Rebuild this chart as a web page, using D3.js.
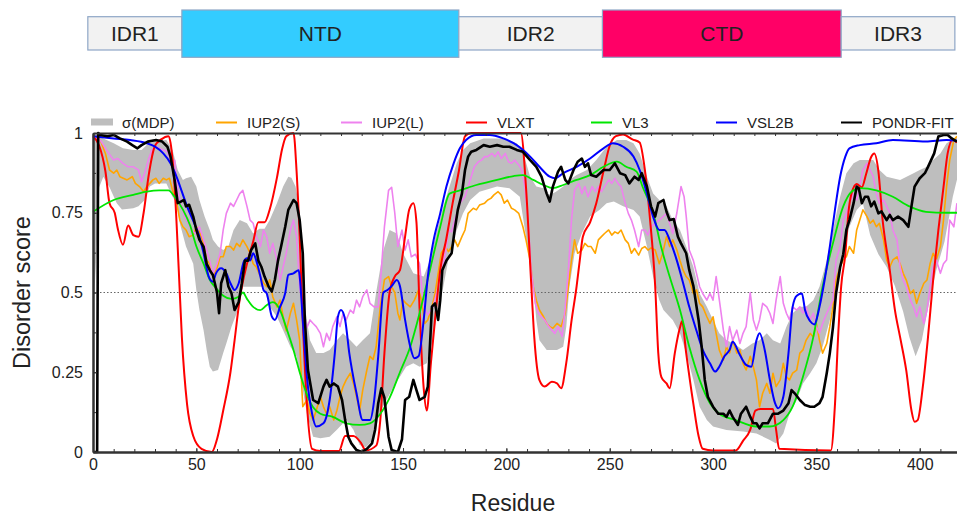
<!DOCTYPE html>
<html>
<head>
<meta charset="utf-8">
<script src="https://cdn.jsdelivr.net/npm/d3@7"></script>
<style>
  body { margin: 0; background: #fff; }
  svg text { font-family: "Liberation Sans", Arial, Helvetica, sans-serif; fill: #222; }
</style>
</head>
<body>
<svg id="chart" width="957" height="515"></svg>
<script>
// ---- data (residue, score) ----
const seqLength = 419;

const domainNames = ["IDR1", "NTD", "IDR2", "CTD", "IDR3"];
const domainStart = [-2.5, 43, 177, 246.5, 362];
const domainEnd = [43, 177, 246.5, 362, 417];
const domainFill = ["#f2f2f2", "#33ccff", "#f2f2f2", "#ff0066", "#f2f2f2"];

const xTicks = [0, 50, 100, 150, 200, 250, 300, 350, 400];
const yTicks = [0, 0.25, 0.5, 0.75, 1];
const yTickLabels = ["0", "0.25", "0.5", "0.75", "1"];

const legendLabels = ["σ(MDP)", "IUP2(S)", "IUP2(L)", "VLXT", "VL3", "VSL2B", "PONDR-FIT"];

const sigmaUpper = [[0,1.0],[3,0.99],[6,0.98],[10,0.968],[14.5,0.952],[19.5,0.947],[23.5,0.947],[26,0.962],[30,0.975],[35.5,0.978],[38.5,0.947],[41,0.884],[43.5,0.853],[45,0.858],[47.5,0.863],[50,0.832],[51.5,0.79],[54,0.738],[56.5,0.696],[58,0.665],[60.5,0.644],[63,0.633],[65.5,0.644],[68,0.696],[71,0.727],[74.5,0.717],[77.5,0.685],[80.5,0.70],[83,0.70],[85.5,0.727],[89,0.78],[92,0.832],[94.5,0.863],[96,0.86],[98,0.832],[99.5,0.78],[101,0.623],[102.5,0.455],[105,0.35],[108,0.31],[111.5,0.31],[114.5,0.32],[118,0.35],[121,0.372],[124.5,0.35],[127.5,0.33],[130.5,0.35],[134,0.372],[137,0.5],[140.5,0.633],[143.5,0.696],[147,0.685],[150,0.623],[155,0.56],[160,0.55],[163,0.60],[166,0.685],[169.5,0.77],[172.5,0.832],[176,0.905],[179,0.947],[182.5,0.968],[189,0.983],[198.5,0.983],[205,0.968],[208,0.941],[211.5,0.863],[214.5,0.832],[218,0.827],[221,0.806],[224,0.816],[227.5,0.832],[230.5,0.853],[234,0.868],[239,0.884],[243.5,0.915],[248.5,0.957],[253.5,0.978],[258,0.978],[261.5,0.968],[264.5,0.936],[268,0.863],[271,0.81],[274,0.79],[277.5,0.77],[280.5,0.727],[284,0.696],[287,0.644],[290.5,0.58],[293.5,0.497],[297,0.455],[300,0.414],[303,0.372],[306.5,0.35],[310,0.34],[314.5,0.32],[319,0.34],[322.5,0.35],[326,0.372],[329,0.35],[332.5,0.34],[335.5,0.393],[338.5,0.435],[342,0.455],[345,0.455],[348.5,0.476],[351.5,0.518],[355,0.60],[358,0.696],[361.5,0.80],[364.5,0.874],[368,0.905],[371,0.915],[377.5,0.915],[380.5,0.884],[384,0.863],[390.5,0.853],[397,0.874],[400,0.884],[403.5,0.894],[406.5,0.915],[410,0.936],[413,0.968],[416,0.98],[419,0.99]];

const sigmaLower = [[0,0.42],[1.5,0.6],[3,0.83],[5,0.863],[8,0.83],[11.5,0.78],[14,0.76],[19.5,0.764],[22,0.77],[25,0.79],[27.5,0.832],[30,0.842],[35.5,0.842],[38.5,0.80],[40.5,0.78],[42,0.717],[45,0.644],[48.5,0.59],[50,0.508],[51.5,0.445],[53.5,0.382],[55,0.32],[56.5,0.267],[58,0.252],[60.5,0.257],[63,0.31],[64.5,0.34],[67,0.393],[69.5,0.435],[72.5,0.518],[77.5,0.518],[82.5,0.518],[85.5,0.455],[89,0.424],[92,0.382],[95.5,0.33],[98.5,0.30],[101,0.215],[103.5,0.12],[106.5,0.048],[110,0.043],[114.5,0.048],[118,0.07],[122.5,0.10],[126,0.07],[129,0.022],[132,0.015],[135.5,0.038],[138.5,0.12],[142,0.163],[145.5,0.205],[148.5,0.236],[151.5,0.267],[155,0.278],[158,0.267],[161.5,0.278],[164,0.34],[166,0.414],[169.5,0.518],[172.5,0.623],[176,0.696],[179,0.748],[182.5,0.79],[187,0.816],[195.5,0.832],[201.5,0.827],[206.5,0.80],[209.5,0.675],[213,0.518],[214.5,0.414],[216,0.35],[219.5,0.32],[224.5,0.32],[227.5,0.33],[229,0.393],[230.5,0.518],[233,0.623],[236.5,0.685],[240.5,0.738],[245,0.759],[248.5,0.78],[252,0.785],[256.5,0.77],[261.5,0.759],[264.5,0.738],[268,0.644],[271,0.55],[274,0.476],[276,0.445],[279,0.424],[280.5,0.414],[284,0.372],[287,0.31],[290.5,0.226],[293.5,0.142],[297,0.10],[300,0.08],[306.5,0.069],[314.5,0.064],[321,0.058],[327.5,0.038],[330.5,0.027],[334,0.058],[337,0.12],[340.5,0.163],[343.5,0.215],[347,0.247],[350,0.278],[353,0.33],[356.5,0.414],[359.5,0.518],[363,0.623],[366,0.706],[369.5,0.759],[372.5,0.78],[376,0.68],[380,0.62],[384,0.58],[388,0.52],[392,0.44],[395,0.36],[398,0.30],[401,0.35],[404,0.45],[408,0.57],[412,0.66],[416,0.80],[419,0.88]];

const iup2s = [[0,0.994],[3.5,0.978],[6,0.936],[8,0.884],[10,0.874],[11.5,0.884],[13,0.863],[16.5,0.853],[19,0.863],[20.5,0.842],[22.5,0.832],[24.5,0.816],[26,0.832],[27.5,0.842],[29,0.853],[30.5,0.858],[32,0.842],[34,0.858],[35.5,0.853],[37,0.858],[38.5,0.82],[40.5,0.78],[42,0.727],[43.5,0.706],[45,0.696],[46.5,0.675],[48.5,0.68],[50,0.706],[51.5,0.69],[53.5,0.654],[55,0.60],[56.5,0.59],[58,0.55],[60,0.576],[61.5,0.612],[63,0.612],[64.5,0.644],[66.5,0.644],[68,0.633],[69.5,0.654],[71,0.644],[72.5,0.665],[74.5,0.644],[76,0.623],[77.5,0.59],[79,0.58],[81,0.55],[82.5,0.53],[84,0.518],[85.5,0.54],[87,0.486],[89,0.455],[90.5,0.476],[92,0.424],[93.5,0.38],[95.5,0.435],[97,0.466],[98.5,0.414],[100,0.35],[101,0.205],[101.5,0.142],[103.5,0.163],[105,0.12],[106.5,0.10],[108,0.13],[110,0.173],[111.5,0.142],[113,0.12],[114.5,0.142],[116.5,0.10],[118,0.13],[119.5,0.173],[121,0.205],[122.5,0.226],[124.5,0.247],[126,0.215],[127.5,0.173],[129,0.13],[130.5,0.194],[132.5,0.257],[134,0.30],[135.5,0.29],[137,0.33],[139,0.455],[141,0.54],[143,0.55],[144.5,0.518],[146,0.50],[147.5,0.435],[148.5,0.414],[150,0.476],[151.5,0.466],[153.5,0.455],[155.5,0.476],[157.5,0.508],[159,0.476],[160.5,0.403],[162,0.414],[164,0.455],[165.5,0.497],[167,0.56],[168.5,0.623],[170.5,0.644],[172,0.628],[173.5,0.644],[175,0.665],[176.5,0.644],[178.5,0.675],[180,0.696],[181.5,0.748],[184,0.764],[185.5,0.759],[187,0.774],[189.5,0.78],[191,0.79],[192.5,0.795],[194,0.806],[196,0.816],[197.5,0.806],[199,0.78],[200.5,0.79],[202.5,0.764],[204,0.759],[206,0.748],[208,0.706],[209.5,0.665],[211.5,0.60],[213,0.518],[214.5,0.476],[216,0.445],[218,0.424],[219.5,0.403],[221,0.393],[222.5,0.388],[224.5,0.403],[226.5,0.393],[228.5,0.435],[230,0.518],[231.5,0.60],[233,0.665],[234.5,0.623],[236.5,0.633],[238,0.654],[239.5,0.644],[241,0.644],[243,0.623],[244.5,0.665],[246,0.675],[247.5,0.685],[249.5,0.696],[251,0.68],[252.5,0.69],[254,0.685],[255.5,0.696],[257.5,0.665],[259,0.654],[260.5,0.623],[262,0.638],[264,0.617],[265.5,0.638],[267,0.644],[268.5,0.633],[270,0.64],[272,0.633],[274,0.59],[275.5,0.62],[277.5,0.675],[279,0.644],[280.5,0.665],[282.5,0.633],[284,0.60],[285.5,0.57],[287,0.55],[288.5,0.539],[290.5,0.497],[292,0.508],[293.5,0.466],[295,0.455],[297,0.424],[298.5,0.403],[300,0.424],[301.5,0.372],[303,0.32],[305,0.288],[306.5,0.33],[308,0.31],[309.5,0.35],[311.5,0.31],[313,0.32],[314.5,0.278],[316,0.257],[318,0.30],[319.5,0.267],[321,0.226],[322.5,0.142],[324,0.184],[326,0.215],[327.5,0.184],[329,0.247],[330.5,0.205],[332.5,0.226],[334,0.278],[335.5,0.236],[337,0.226],[338.5,0.247],[340.5,0.257],[342,0.31],[343.5,0.32],[345,0.35],[347,0.372],[348.5,0.36],[350,0.403],[351.5,0.35],[353,0.31],[355,0.34],[356.5,0.393],[358,0.455],[359.5,0.54],[361.5,0.58],[363,0.602],[364.5,0.612],[366,0.644],[368,0.623],[369.5,0.696],[371,0.727],[372.5,0.759],[374.5,0.738],[376,0.717],[377.5,0.727],[379,0.706],[380.5,0.717],[382.5,0.665],[384,0.602],[385.5,0.58],[387,0.602],[389,0.612],[390.5,0.59],[392,0.56],[393.5,0.539],[395.5,0.497],[397,0.508],[398.5,0.466],[400,0.497],[402,0.529],[403.5,0.539],[405,0.59],[406.5,0.623],[408,0.602],[410,0.644],[411.5,0.727],[413,0.832],[414.5,0.915],[416.5,0.978],[418,0.99]];

const iup2l = [[0,0.99],[3.5,0.978],[6.5,0.947],[10,0.915],[12,0.92],[14.5,0.905],[17,0.894],[19.5,0.894],[22,0.884],[23.5,0.847],[25,0.874],[27,0.92],[28.5,0.947],[30.5,0.957],[34,0.947],[36,0.941],[38,0.905],[39.5,0.915],[41,0.82],[42.5,0.78],[44,0.743],[46,0.717],[47.5,0.696],[49.5,0.685],[51.5,0.706],[53.5,0.665],[55,0.633],[56.5,0.60],[58,0.56],[60,0.59],[61.5,0.623],[63,0.696],[64.5,0.748],[66.5,0.78],[68,0.77],[69.5,0.79],[71,0.81],[72.5,0.82],[74.5,0.77],[76,0.727],[77.5,0.717],[79,0.675],[81,0.644],[82.5,0.696],[84,0.675],[85.5,0.623],[87,0.654],[89,0.60],[90.5,0.539],[92,0.58],[93.5,0.623],[95.5,0.696],[97,0.727],[98.5,0.675],[100,0.518],[101.5,0.455],[103.5,0.39],[105,0.414],[106.5,0.403],[108,0.393],[110,0.372],[111.5,0.33],[113,0.372],[114.5,0.35],[116,0.393],[118,0.424],[119.5,0.393],[121,0.435],[122.5,0.414],[124.5,0.445],[126,0.435],[127.5,0.476],[129,0.455],[130.5,0.487],[132.5,0.508],[134,0.466],[136,0.455],[138,0.455],[139.5,0.57],[141,0.706],[143,0.82],[144.5,0.83],[146,0.75],[147.5,0.644],[149.5,0.696],[151,0.633],[152.5,0.665],[154,0.612],[156,0.62],[158,0.59],[160,0.455],[162,0.43],[164.5,0.455],[168,0.54],[170.5,0.623],[172,0.696],[173.5,0.69],[175,0.727],[177.5,0.78],[180,0.80],[181.5,0.832],[183,0.863],[184.5,0.894],[186.5,0.91],[188,0.915],[189.5,0.926],[191,0.926],[193,0.936],[194.5,0.926],[196,0.941],[197.5,0.92],[199.5,0.936],[201,0.91],[202.5,0.905],[204,0.915],[206,0.90],[207.5,0.884],[209,0.832],[210.5,0.727],[212,0.57],[214,0.466],[215.5,0.435],[217,0.424],[218.5,0.414],[220.5,0.393],[222,0.382],[223.5,0.372],[225,0.393],[227,0.362],[228.5,0.455],[230,0.57],[231.5,0.727],[233,0.82],[235,0.842],[236.5,0.81],[238,0.832],[239.5,0.80],[241.5,0.832],[243,0.816],[244.5,0.832],[246,0.816],[247.5,0.832],[249.5,0.853],[251,0.842],[252.5,0.858],[254,0.842],[255.5,0.832],[257.5,0.78],[259,0.748],[260.5,0.727],[262,0.696],[264,0.644],[265.5,0.696],[267,0.696],[268.5,0.68],[270,0.706],[272,0.717],[274,0.727],[277.5,0.748],[280.5,0.685],[282.5,0.75],[284.5,0.832],[286,0.80],[287,0.74],[288.5,0.633],[290.5,0.60],[292,0.56],[293.5,0.518],[295,0.497],[297,0.476],[298.5,0.497],[300,0.476],[301.5,0.55],[303.5,0.455],[305,0.382],[306.5,0.33],[308,0.393],[309.5,0.35],[311.5,0.382],[313,0.34],[314.5,0.372],[316,0.393],[318,0.50],[319.5,0.414],[321,0.382],[322.5,0.414],[324,0.466],[326,0.455],[327.5,0.435],[329,0.403],[330.5,0.476],[332.5,0.55],[334,0.466],[335.5,0.435],[337,0.414],[338.5,0.455],[340.5,0.445],[342,0.455],[343.5,0.435],[345,0.455],[347,0.414],[348.5,0.435],[350,0.393],[351.5,0.372],[353,0.403],[355,0.435],[356.5,0.455],[358,0.476],[359.5,0.60],[361.5,0.644],[363,0.727],[364.5,0.748],[366,0.78],[368,0.81],[369.5,0.79],[371,0.832],[372.5,0.884],[374.5,0.905],[376,0.884],[377.5,0.863],[379,0.81],[380.5,0.78],[382.5,0.79],[384,0.77],[385.5,0.75],[387,0.696],[389,0.665],[390.5,0.58],[392,0.539],[393.5,0.518],[395.5,0.476],[397,0.455],[398.5,0.424],[400,0.455],[402,0.403],[403.5,0.445],[405,0.518],[406.5,0.58],[408,0.602],[410,0.56],[411.5,0.59],[413,0.602],[414.5,0.727],[416.5,0.706],[418,0.78]];

const vlxt = [[0,0.99],[3,0.96],[6,0.88],[8,0.78],[10.5,0.75],[12,0.70],[14.5,0.65],[17,0.71],[19.5,0.68],[22,0.675],[24.5,0.75],[27,0.87],[30,0.96],[33,0.98],[36.5,0.99],[37.5,0.97],[39.5,0.83],[41.5,0.57],[43,0.36],[45.5,0.15],[48.5,0.05],[52.5,0.01],[57.5,0],[60,0.04],[63,0.13],[66.5,0.25],[68.5,0.35],[71,0.48],[74.5,0.59],[77.5,0.66],[80,0.72],[83,0.72],[85.5,0.76],[89,0.86],[91.5,0.95],[93.5,0.99],[97,1.0],[98.5,0.88],[100,0.675],[101.5,0.41],[103.5,0.15],[106,0.01],[110,0.003],[119,0.003],[122,0.05],[126,0.05],[129.5,0.03],[132,0.005],[137,0.02],[139,0.1],[141,0.31],[143.5,0.5],[146,0.55],[148.5,0.57],[151,0.675],[153,0.76],[155,0.78],[156.5,0.72],[158,0.45],[160,0.2],[161.5,0.13],[163.5,0.28],[166,0.45],[168,0.57],[171,0.67],[174,0.78],[177,0.88],[180,0.99],[183,1.0],[207,1.0],[209.5,0.83],[212,0.53],[213.5,0.36],[216,0.225],[218.5,0.205],[222,0.22],[224.5,0.215],[226.5,0.2],[229,0.28],[231.5,0.41],[234,0.52],[235.5,0.60],[237,0.675],[240.5,0.72],[243.5,0.78],[247,0.88],[250,0.96],[253,0.99],[256.5,0.995],[261,0.98],[264.5,0.97],[267,0.885],[269.5,0.73],[272,0.52],[273.5,0.31],[275,0.235],[277.5,0.215],[279,0.2],[281.5,0.31],[284,0.39],[285,0.41],[287,0.31],[290.5,0.15],[293,0.05],[295,0.01],[300,0.005],[311,0.005],[314.5,0.035],[318,0.07],[320.5,0.13],[323,0.135],[329,0.135],[330.5,0.07],[332,0.01],[357,0.005],[359,0.15],[360.5,0.36],[362,0.52],[364,0.62],[365.5,0.75],[367,0.81],[369.5,0.84],[372,0.83],[374,0.87],[376.5,0.925],[378,0.936],[380,0.88],[382,0.73],[385.5,0.57],[388,0.445],[390.5,0.36],[393.5,0.255],[396,0.13],[397.5,0.095],[399,0.1],[401.5,0.205],[404,0.36],[406.5,0.54],[409,0.695],[411.5,0.83],[413.5,0.936],[416,0.98],[418,0.97]];

const vl3 = [[0,0.753],[10,0.79],[19.5,0.806],[26,0.816],[32,0.82],[36.5,0.82],[39.5,0.80],[43.5,0.76],[47,0.71],[50,0.645],[53.5,0.59],[56.5,0.54],[60,0.51],[63,0.49],[67,0.48],[70.5,0.487],[72.5,0.50],[74.5,0.48],[77.5,0.455],[81,0.445],[84,0.46],[87,0.47],[90.5,0.445],[93.5,0.39],[97,0.32],[100,0.25],[103.5,0.18],[106.5,0.14],[110,0.12],[116,0.11],[122.5,0.09],[129,0.085],[134,0.09],[139,0.12],[143.5,0.17],[148.5,0.25],[153.5,0.33],[158,0.435],[163,0.57],[168,0.706],[172.5,0.81],[177.5,0.82],[185.5,0.837],[195.5,0.853],[203.5,0.865],[208,0.868],[213,0.853],[218,0.837],[222.5,0.827],[227.5,0.837],[234,0.853],[240.5,0.868],[247,0.894],[253.5,0.91],[258,0.894],[263,0.879],[266,0.83],[271,0.75],[275,0.64],[279,0.55],[284,0.445],[288.5,0.33],[293.5,0.226],[298.5,0.153],[303,0.12],[311,0.10],[321,0.08],[327.5,0.08],[334,0.10],[338.5,0.142],[343.5,0.236],[348.5,0.36],[353,0.518],[358,0.654],[363,0.77],[367,0.816],[371,0.827],[379,0.82],[387,0.80],[395,0.77],[403,0.753],[413,0.75],[419,0.75]];

const vsl2b = [[0,0.99],[10,0.983],[18,0.978],[26,0.968],[30,0.957],[34,0.936],[37.5,0.905],[41,0.853],[43,0.816],[45.5,0.77],[49,0.717],[51.5,0.675],[53.5,0.623],[56,0.55],[58,0.534],[59.5,0.56],[62,0.576],[64.5,0.56],[66.5,0.529],[68.5,0.508],[70.5,0.529],[73,0.597],[74.5,0.607],[76,0.60],[77.5,0.623],[79,0.60],[81,0.55],[82.5,0.508],[84,0.498],[86.5,0.425],[88,0.414],[90.5,0.455],[93,0.498],[94.5,0.555],[97,0.56],[99.5,0.57],[100,0.55],[101.5,0.414],[103.5,0.236],[106,0.12],[108,0.08],[111.5,0.09],[114.5,0.163],[117,0.31],[118.5,0.424],[120,0.445],[122,0.414],[124,0.31],[127.5,0.184],[130.5,0.10],[134,0.10],[136,0.16],[138,0.3],[140.5,0.5],[142.5,0.508],[144.5,0.52],[147,0.539],[148.5,0.52],[151,0.414],[153.5,0.33],[155.5,0.294],[157.5,0.30],[160,0.414],[162,0.55],[164.5,0.654],[168,0.748],[171,0.832],[174.5,0.905],[177.5,0.952],[180.5,0.978],[185.5,0.994],[192,0.994],[198.5,0.983],[205,0.962],[211.5,0.926],[216,0.894],[221,0.863],[223.5,0.858],[227.5,0.874],[234,0.894],[240.5,0.92],[247,0.952],[251.5,0.968],[256.5,0.957],[261.5,0.926],[264.5,0.884],[268,0.81],[271,0.738],[274,0.696],[276.5,0.696],[279,0.665],[282.5,0.60],[285.5,0.53],[288.5,0.455],[292,0.38],[295,0.32],[298.5,0.278],[301,0.252],[303,0.267],[305.5,0.30],[308,0.32],[309.5,0.346],[313,0.304],[316,0.273],[318.5,0.267],[321,0.35],[322.5,0.372],[325,0.32],[327.5,0.226],[330,0.153],[331.5,0.137],[334,0.173],[336.5,0.31],[338.5,0.455],[340.5,0.49],[343,0.497],[344.5,0.445],[347,0.41],[349,0.40],[351.5,0.455],[354,0.54],[356.5,0.644],[359,0.76],[361.5,0.863],[364,0.926],[366,0.952],[371,0.962],[379,0.968],[387,0.978],[403,0.973],[413,0.978],[419,0.975]];

const pondrFit = [[0,0],[2,0],[2.5,1.0],[3.5,0.994],[7,0.99],[10,0.994],[13,0.983],[16.5,0.973],[19,0.962],[21.5,0.952],[23.5,0.962],[26.5,0.973],[30.5,0.978],[33.5,0.973],[36,0.957],[37.5,0.926],[39.5,0.853],[41,0.78],[42.5,0.785],[44,0.79],[45,0.77],[46.5,0.775],[48.5,0.738],[50,0.696],[51.5,0.665],[53.5,0.644],[55,0.59],[56.5,0.57],[58,0.555],[60,0.50],[61,0.435],[62,0.529],[64,0.57],[65.5,0.519],[67,0.498],[68.5,0.445],[70.5,0.47],[72,0.529],[73.5,0.60],[75,0.60],[76.5,0.633],[78.5,0.654],[80,0.60],[81.5,0.58],[83,0.55],[85,0.518],[86.5,0.503],[88,0.54],[89.5,0.60],[91,0.644],[93,0.706],[94.5,0.759],[97,0.79],[98.5,0.78],[100,0.727],[101.5,0.623],[102.5,0.414],[104,0.257],[106.5,0.163],[109,0.153],[111.5,0.205],[113,0.226],[114.5,0.205],[116.5,0.215],[118.5,0.205],[120.5,0.163],[122,0.10],[123.5,0.048],[125,0.027],[127.5,0.006],[130,0],[132.5,0.01],[135,0.027],[136.5,0.07],[138,0.153],[139.5,0.2],[141,0.17],[143,0.048],[144.5,0.006],[147.5,0],[149.5,0.04],[151,0.163],[153,0.173],[155,0.226],[156.5,0.194],[158,0.163],[160.5,0.173],[162,0.205],[164,0.456],[165.5,0.466],[167,0.414],[168,0.476],[169,0.57],[171,0.60],[173.5,0.623],[175,0.696],[176.5,0.759],[178.5,0.81],[180,0.884],[181.5,0.926],[183,0.941],[185.5,0.947],[189,0.962],[192,0.957],[195.5,0.962],[198.5,0.957],[201.5,0.957],[205,0.947],[208,0.941],[211.5,0.915],[214.5,0.894],[217,0.863],[219.5,0.81],[221,0.785],[222.5,0.832],[225,0.879],[226.5,0.894],[228.5,0.853],[230,0.842],[232.5,0.884],[234.5,0.91],[236.5,0.92],[238,0.894],[239.5,0.905],[241,0.868],[243.5,0.863],[247,0.884],[250,0.884],[252.5,0.905],[255,0.874],[257.5,0.868],[259.5,0.842],[262,0.863],[264,0.853],[265.5,0.874],[268,0.832],[270,0.77],[272,0.738],[273.5,0.78],[276,0.79],[277.5,0.753],[279,0.727],[281,0.73],[283,0.675],[284.5,0.654],[287,0.623],[288.5,0.57],[290.5,0.52],[293,0.414],[294.5,0.33],[296,0.226],[297.5,0.173],[300,0.142],[302.5,0.12],[305,0.12],[306.5,0.11],[308,0.13],[309.5,0.11],[312,0.085],[313.5,0.12],[316,0.142],[318,0.11],[319.5,0.09],[321,0.09],[322.5,0.074],[324,0.09],[326.5,0.09],[329,0.12],[331.5,0.12],[334,0.13],[336.5,0.153],[338,0.194],[339.5,0.184],[342,0.163],[344.5,0.147],[347,0.142],[349,0.142],[351.5,0.153],[353,0.173],[355,0.247],[356.5,0.31],[358,0.39],[359.5,0.497],[361.5,0.58],[363,0.62],[364.5,0.696],[366,0.727],[368,0.78],[369.5,0.832],[370.5,0.827],[372,0.78],[373.5,0.80],[375,0.80],[376.5,0.77],[378,0.785],[380,0.748],[381.5,0.754],[384,0.727],[385.5,0.743],[387,0.727],[389.5,0.738],[392,0.727],[394.5,0.706],[396,0.77],[397.5,0.832],[400,0.858],[402.5,0.874],[404,0.894],[405.5,0.915],[407,0.936],[409,0.989],[411.5,0.994],[413.5,0.994],[415.5,0.983],[418,0.973]];

// ---- chart ----
const svg = d3.select("#chart");

const x = d3.scaleLinear().domain([0, seqLength]).range([93, 959]);
const y = d3.scaleLinear().domain([0, 1]).range([452, 133]);

// domain architecture bar across the top
const domains = domainNames.map((name, i) => ({
  name: name, start: domainStart[i], end: domainEnd[i], fill: domainFill[i],
  core: !name.startsWith("IDR")
}));

const bar = svg.append("g");
bar.selectAll("rect")
   .data(domains)
   .enter()
   .append("rect")
   .attr("x", d => x(d.start))
   .attr("width", d => x(d.end) - x(d.start))
   .attr("y", d => d.core ? 10 : 16.7)
   .attr("height", d => d.core ? 47.3 : 33.3)
   .attr("fill", d => d.fill)
   .attr("stroke", "#8ea6c6")
   .attr("stroke-width", 1.2);

bar.selectAll("text")
   .data(domains)
   .enter()
   .append("text")
   .attr("x", d => (x(d.start) + x(d.end)) / 2)
   .attr("y", 41)
   .attr("text-anchor", "middle")
   .style("font-size", "21px")
   .text(d => d.name);

// sigma band
const plot = svg.append("g");
const line = d3.line().x(d => x(d[0])).y(d => y(d[1]));

plot.append("path")
    .attr("d", line(sigmaUpper.concat(sigmaLower.slice().reverse())) + "Z")
    .attr("fill", "#bebebe");

// 0.5 reference line
plot.append("line")
    .attr("x1", x(0)).attr("x2", x(seqLength))
    .attr("y1", y(0.5)).attr("y2", y(0.5))
    .attr("stroke", "#666")
    .attr("stroke-width", 1)
    .attr("stroke-dasharray", "1.5,2");

const series = [
  { name: "IUP2(S)", data: iup2s, color: "#ffa500", width: 1.6, curve: d3.curveLinear },
  { name: "IUP2(L)", data: iup2l, color: "#ee82ee", width: 1.6, curve: d3.curveLinear },
  { name: "VLXT", data: vlxt, color: "#ff0000", width: 2, curve: d3.curveMonotoneX },
  { name: "VL3", data: vl3, color: "#00e600", width: 1.8, curve: d3.curveMonotoneX },
  { name: "VSL2B", data: vsl2b, color: "#0000ff", width: 2, curve: d3.curveMonotoneX },
  { name: "PONDR-FIT", data: pondrFit, color: "#000000", width: 2.6, curve: d3.curveLinear }
];

series.forEach(s => {
  plot.append("path")
      .attr("d", line.curve(s.curve)(s.data))
      .attr("fill", "none")
      .attr("stroke", s.color)
      .attr("stroke-width", s.width)
      .attr("stroke-linejoin", "round");
});

// axes: ticks point inward, majors labelled, minors bare
const axisColor = "#333";
function styleAxis(g) {
  g.select(".domain").attr("stroke", axisColor).attr("stroke-width", 2);
  g.selectAll(".tick line").attr("stroke", axisColor).attr("stroke-width", 1);
  g.selectAll(".tick text").style("font-size", "16px").attr("fill", "#333")
   .style("font-family", "'Liberation Sans', Arial, sans-serif");
}

svg.append("g")
   .attr("transform", "translate(0," + y(0) + ")")
   .call(d3.axisBottom(x).tickValues(d3.range(0, seqLength, 10)).tickSize(-3).tickSizeOuter(0).tickFormat(""))
   .call(styleAxis);
svg.append("g")
   .attr("transform", "translate(0," + y(0) + ")")
   .call(d3.axisBottom(x).tickValues(xTicks).tickSize(-4).tickSizeOuter(0).tickPadding(7))
   .call(styleAxis);

svg.append("g")
   .attr("transform", "translate(0," + y(1) + ")")
   .call(d3.axisTop(x).tickValues(d3.range(0, seqLength, 10)).tickSize(-3).tickSizeOuter(0).tickFormat(""))
   .call(styleAxis);

svg.append("g")
   .attr("transform", "translate(" + x(0) + ",0)")
   .call(d3.axisLeft(y).tickValues(d3.range(0, 1.01, 0.125)).tickSize(-3).tickSizeOuter(0).tickFormat(""))
   .call(styleAxis);
svg.append("g")
   .attr("transform", "translate(" + x(0) + ",0)")
   .call(d3.axisLeft(y).tickValues(yTicks).tickSize(-4).tickSizeOuter(0).tickPadding(10)
           .tickFormat((d, i) => yTickLabels[i]))
   .call(styleAxis);

// axis titles
svg.append("text")
   .attr("x", (x(0) + 933) / 2)
   .attr("y", 511)
   .attr("text-anchor", "middle")
   .style("font-size", "23px")
   .text("Residue");

svg.append("text")
   .attr("transform", "translate(30," + y(0.5) + ")rotate(-90)")
   .attr("text-anchor", "middle")
   .style("font-size", "23.5px")
   .text("Disorder score");

// legend row above the frame
const legendColors = ["#bebebe"].concat(series.map(s => s.color));
const legend = svg.append("g");
legendLabels.forEach((label, i) => {
  const lx = 91 + i * 125;
  if (i === 0) {
    legend.append("rect")
          .attr("x", lx).attr("y", 118.5)
          .attr("width", 22).attr("height", 7)
          .attr("fill", legendColors[i]);
  } else {
    legend.append("line")
          .attr("x1", lx).attr("x2", lx + 21)
          .attr("y1", 122.5).attr("y2", 122.5)
          .attr("stroke", legendColors[i])
          .attr("stroke-width", 2);
  }
  legend.append("text")
        .attr("x", lx + 31)
        .attr("y", 128)
        .style("font-size", "15px")
        .text(label);
});
</script>
</body>
</html>
